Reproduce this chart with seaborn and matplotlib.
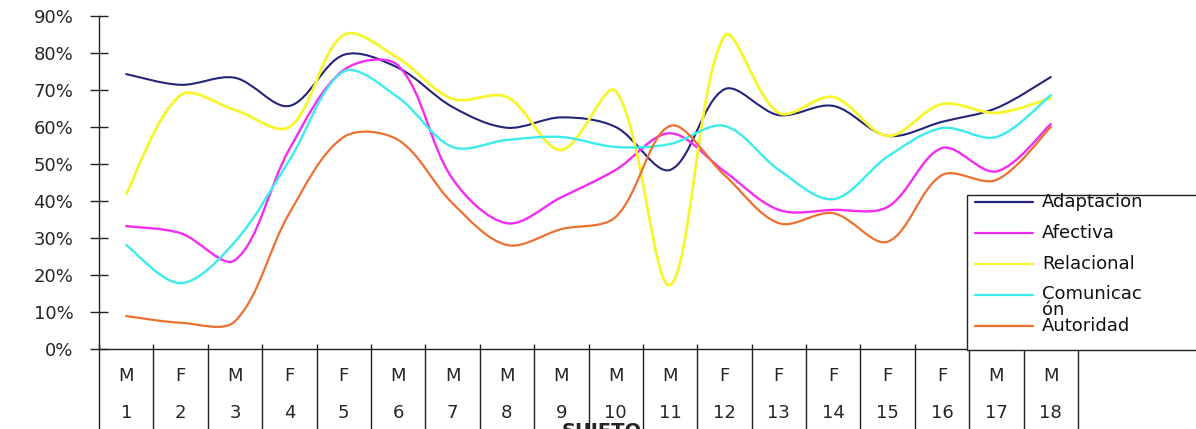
import numpy as np
import pandas as pd
import seaborn as sns
import matplotlib.pyplot as plt
from matplotlib.path import Path
from matplotlib.patches import PathPatch, Rectangle
from matplotlib.lines import Line2D

# datos (porcentaje por sujeto)
sujetos = list(range(1, 19))
sexo = ['M', 'F', 'M', 'F', 'F', 'M', 'M', 'M', 'M', 'M', 'M', 'F', 'F', 'F', 'F', 'F', 'M', 'M']

adaptacion = [74.3, 71.4, 73.3, 65.7, 79.5, 76.0, 65.4, 59.8, 62.6, 60.0, 48.4, 70.2, 63.2, 65.7, 57.6, 61.4, 65.1, 73.5]
afectiva = [33.2, 31.3, 24.0, 54.0, 75.4, 76.6, 46.0, 34.0, 41.0, 48.4, 58.3, 48.0, 37.6, 37.6, 38.4, 54.3, 48.0, 60.8]
relacional = [41.9, 68.6, 64.6, 60.0, 84.9, 78.6, 67.6, 68.1, 53.8, 69.7, 17.3, 84.6, 63.8, 68.1, 57.6, 66.2, 63.8, 67.8]
comunicacion = [28.1, 17.8, 29.0, 51.0, 75.0, 68.0, 54.6, 56.5, 57.3, 54.6, 55.4, 60.3, 48.4, 40.5, 52.0, 59.7, 57.3, 68.6]
autoridad = [8.9, 7.1, 7.5, 36.7, 57.3, 56.5, 39.4, 28.1, 32.4, 35.7, 60.3, 47.0, 34.0, 36.7, 29.0, 47.0, 45.7, 60.0]

series_names = ['Adaptacion', 'Afectiva', 'Relacional', 'Comunicac\nón', 'Autoridad']
series_vals = [adaptacion, afectiva, relacional, comunicacion, autoridad]
colores = ['#24247a', '#f22cf2', '#f6f62a', '#3cecec', '#ee7030']
anchos = [1.5, 1.7, 2.0, 1.7, 1.6]

df = pd.DataFrame({'Sujeto': sujetos, 'Sexo': sexo})
for name, vals in zip(series_names, series_vals):
    df[name] = vals

sns.set_theme(style="white")
plt.rcParams['font.family'] = ['DejaVu Sans']

W, H = 1196, 429
fig = plt.figure(figsize=(W / 100, H / 100), dpi=100)
ax = fig.add_axes([99 / W, 1 - 349 / H, 979 / W, 333 / H])

# escala aproximada en pixeles, para suavizar como Excel
SX = 979 / 18
SY = 333 / 90


def suave(xs, ys):
    # Bezier cubica con tangentes ponderadas por longitud de los tramos
    p = np.column_stack([xs, ys]).astype(float)
    n = len(p)
    esc = np.array([SX, SY])

    def dist(a, b):
        return np.hypot(*((b - a) * esc))

    verts = [p[0]]
    codes = [Path.MOVETO]
    for i in range(n - 1):
        p0 = p[max(i - 1, 0)]
        p1 = p[i]
        p2 = p[i + 1]
        p3 = p[min(i + 2, n - 1)]
        d01, d12, d23 = dist(p0, p1), dist(p1, p2), dist(p2, p3)
        f1 = d12 / (d01 + d12) / 3 if d01 > 0 else 1 / 3
        f2 = d12 / (d12 + d23) / 3 if d23 > 0 else 1 / 3
        t1 = (p2 - p0) if d01 > 0 else (p2 - p1) / 2
        t2 = (p3 - p1) if d23 > 0 else (p2 - p1) / 2
        verts += [p1 + t1 * f1, p2 - t2 * f2, p2]
        codes += [Path.CURVE4] * 3
    return Path(verts, codes)


xpos = np.arange(len(sujetos))
for name, col, lw in zip(series_names, colores, anchos):
    patch = PathPatch(suave(xpos, df[name].values), fill=False, edgecolor=col, lw=lw,
                      capstyle='round', joinstyle='round')
    ax.add_patch(patch)

ax.set_xlim(-0.5, len(sujetos) - 0.5)
ax.set_ylim(0, 90)
ax.set_yticks(range(0, 91, 10))
ax.set_yticklabels([f'{v}%' for v in range(0, 91, 10)], fontsize=13)
ax.tick_params(axis='y', direction='inout', length=13, width=1, color='#222222', pad=12, left=True)

ax.set_xticks(xpos)
ax.set_xticklabels([f'{s}\n{n}' for s, n in zip(df['Sexo'], df['Sujeto'])],
                   fontsize=13, linespacing=2.35)
ax.tick_params(axis='x', length=0, pad=13)

for side in ['top', 'right']:
    ax.spines[side].set_visible(False)
for side in ['left', 'bottom']:
    ax.spines[side].set_color('#222222')
    ax.spines[side].set_linewidth(1)

# lineas de la tabla de categorias
ax.vlines(np.arange(-0.5, len(sujetos), 1), 0.015, -0.3, transform=ax.get_xaxis_transform(),
          colors='#222222', lw=1, clip_on=False)

ax.set_xlabel('SUJETO', fontsize=14, fontweight='bold')
ax.xaxis.set_label_coords(0.513, -0.219)

# leyenda
def fp(x, y):
    return x / W, 1 - y / H

x0, y0 = fp(967, 350)
x1, y1 = fp(1210, 195)
fig.patches.append(Rectangle((x0, y0), x1 - x0, y1 - y0, transform=fig.transFigure,
                             facecolor='white', edgecolor='#222222', lw=1))
ys_ley = [202, 233, 264, 295, 326]
for name, col, yl in zip(series_names, colores, ys_ley):
    a, b = fp(975, yl)
    c, _ = fp(1033, yl)
    fig.lines.append(Line2D([a, c], [b, b], transform=fig.transFigure, color=col, lw=1.6))
    if '\n' in name:
        tx, ty = fp(1042, 302)
    else:
        tx, ty = fp(1042, yl)
    fig.text(tx, ty, name, fontsize=13, va='center', ha='left', linespacing=0.8, color='#111111')

fig.savefig('out.png', dpi=100)
